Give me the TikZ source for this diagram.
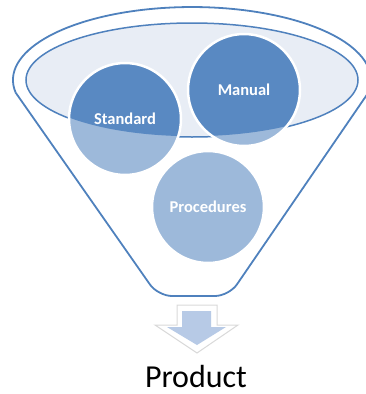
\documentclass[tikz,border=0pt]{standalone}
\usepackage{fontspec}
\setmainfont{Carlito}
\definecolor{edge}{RGB}{79,129,189}
\definecolor{bowl}{RGB}{232,237,245}
\definecolor{dark}{RGB}{89,137,194}
\definecolor{light}{RGB}{157,185,218}
\definecolor{arrowfill}{RGB}{183,202,230}

\begin{document}
\begin{tikzpicture}[%
        x=1pt, y=-1pt,
        funnel/.style={draw=edge, line width=1.8pt},
        rim/.style={draw=edge, fill=bowl, line width=1.5pt},
        ball/.style={circle, draw=white, line width=2.5pt, minimum size=112pt, inner sep=0pt, text=white, font=\fontsize{16.5}{18}\selectfont\bfseries},
        outarrow/.style={draw=black!15, fill=white, line width=1pt},
        inarrow/.style={fill=arrowfill},
        label/.style={inner sep=0pt, font=\fontsize{32}{38}\selectfont}
        ]
        \useasboundingbox (0,0) rectangle (366,394);
        \draw[funnel] (15.7,92.7) arc[start angle=170, end angle=370, x radius=179, y radius=73];
        \draw[funnel, rounded corners=14pt] (15.7,92.7) -- (158,296) -- (229,296) -- (368.3,92.7);
        \draw[rim] (192,80) ellipse [x radius=166, y radius=57];
        \coordinate (cstd) at (125,119);
        \coordinate (cman) at (244,90);
        \coordinate (cprc) at (208,207);
        \foreach \c in {cstd,cman,cprc} \fill[light] (\c) circle (56);
        \begin{scope}
            \clip (192,80) ellipse [x radius=165.2, y radius=56.2];
            \foreach \c in {cstd,cman} \fill[dark] (\c) circle (56);
        \end{scope}
        \node[ball] (std) at (cstd) {Standard};
        \node[ball] (man) at (cman) {Manual};
        \node[ball] (prc) at (cprc) {Procedures};
        \draw[outarrow] (177,305) -- (217,305) -- (217,325) -- (238,325) -- (197,353) -- (155,325) -- (177,325) -- cycle;
        \fill[inarrow] (182,311) -- (211,311) -- (211,327) -- (226,327) -- (197,345) -- (167,327) -- (182,327) -- cycle;
        \node[label] (prod) at (196,377) {Product};
    \end{tikzpicture}
\end{document}
